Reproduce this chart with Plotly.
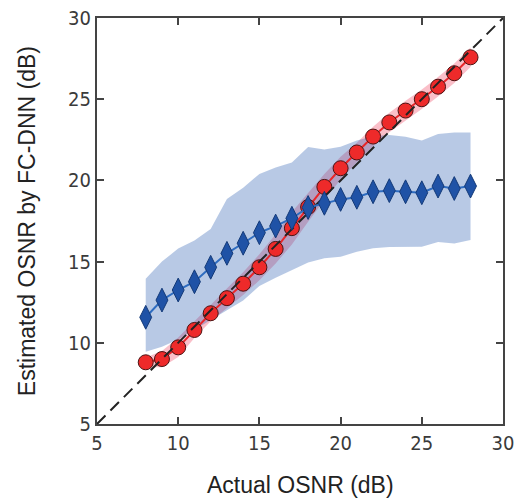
import plotly.graph_objects as go

# ---- data ----
actual_osnr = [8, 9, 10, 11, 12, 13, 14, 15, 16, 17, 18, 19, 20, 21, 22, 23, 24, 25, 26, 27, 28]

red_est = [8.8, 9.0, 9.72, 10.79, 11.82, 12.75, 13.64, 14.65, 15.78, 17.06, 18.36,
           19.6, 20.75, 21.72, 22.7, 23.57, 24.3, 25.0, 25.77, 26.6, 27.58]
red_halfwidth = [0.3, 0.5, 0.6, 0.5, 0.5, 0.6, 0.7, 0.8, 0.9, 1.0, 0.9,
                 0.8, 0.7, 0.6, 0.6, 0.6, 0.6, 0.6, 0.6, 0.6, 0.6]

blue_est = [11.57, 12.63, 13.25, 13.76, 14.65, 15.51, 16.13, 16.78, 17.19, 17.67, 18.33,
            18.59, 18.83, 18.96, 19.3, 19.37, 19.3, 19.24, 19.65, 19.5, 19.65]
blue_upper = [13.95, 15.0, 15.8, 16.3, 17.0, 18.85, 19.55, 20.4, 20.8, 21.1, 22.05,
              21.9, 22.07, 22.45, 22.72, 22.8, 22.69, 22.45, 22.85, 22.95, 22.95]
blue_lower = [9.45, 9.75, 10.2, 10.8, 11.4, 12.0, 12.6, 13.5, 14.0, 14.5, 14.95,
              15.2, 15.3, 15.6, 15.82, 15.9, 15.92, 15.92, 16.2, 16.12, 16.33]

ideal_line = [5, 30]
tick_vals = [5, 10, 15, 20, 25, 30]
x_title = "Actual OSNR (dB)"
y_title = "Estimated OSNR by FC-DNN (dB)"

# ---- figure ----
fig = go.Figure()

red_up = [m + h for m, h in zip(red_est, red_halfwidth)]
red_lo = [m - h for m, h in zip(red_est, red_halfwidth)]

# red band
fig.add_trace(go.Scatter(
    x=actual_osnr + actual_osnr[::-1], y=red_up + red_lo[::-1],
    fill="toself", fillcolor="rgba(240,60,90,0.33)", line=dict(width=0),
    mode="lines", hoverinfo="skip", showlegend=False))

# blue band
fig.add_trace(go.Scatter(
    x=actual_osnr + actual_osnr[::-1], y=blue_upper + blue_lower[::-1],
    fill="toself", fillcolor="rgba(40,90,175,0.33)", line=dict(width=0),
    mode="lines", hoverinfo="skip", showlegend=False))

# red series
fig.add_trace(go.Scatter(
    x=actual_osnr, y=red_est, mode="lines+markers",
    line=dict(color="#e8262a", width=2),
    marker=dict(symbol="circle", size=15, color="#ee2a2a",
                line=dict(color="#4a1414", width=1)),
    showlegend=False))

# ideal y = x dashed line (drawn over the red markers)
fig.add_trace(go.Scatter(
    x=ideal_line, y=ideal_line, mode="lines",
    line=dict(color="#222222", width=2, dash="12px,7px"),
    hoverinfo="skip", showlegend=False))

# blue series
fig.add_trace(go.Scatter(
    x=actual_osnr, y=blue_est, mode="lines+markers",
    line=dict(color="#2e6cc0", width=2),
    marker=dict(symbol="diamond-tall", size=17, color="#1f52a6",
                line=dict(color="#143a78", width=1)),
    showlegend=False))

axis_common = dict(
    range=[5, 30], tickvals=tick_vals, ticks="inside", ticklen=7, tickwidth=1.5,
    tickcolor="#444444", showline=True, linecolor="#444444", linewidth=2,
    mirror="ticks", showgrid=False, zeroline=False, automargin=False,
    tickfont=dict(family="DejaVu Sans Condensed, DejaVu Sans", size=20, color="#3a3a3a"),
)

fig.update_layout(
    width=518, height=501,
    margin=dict(l=97, r=15, t=18, b=77, autoexpand=False),
    paper_bgcolor="white", plot_bgcolor="white",
    xaxis=dict(**axis_common),
    yaxis=dict(**axis_common),
    annotations=[
        dict(text=x_title, xref="paper", yref="paper", x=0.5, y=-0.15,
             xanchor="center", yanchor="middle", showarrow=False,
             font=dict(family="Liberation Sans, Arial", size=23, color="#222222")),
        dict(text=y_title, xref="paper", yref="paper", x=-0.172, y=0.5,
             xanchor="center", yanchor="middle", showarrow=False, textangle=-90,
             font=dict(family="Liberation Sans, Arial", size=23, color="#222222")),
    ],
)

fig.write_html("out.html", config={"displayModeBar": False},
               post_script="document.body.style.margin='0';document.body.style.overflow='hidden';")
